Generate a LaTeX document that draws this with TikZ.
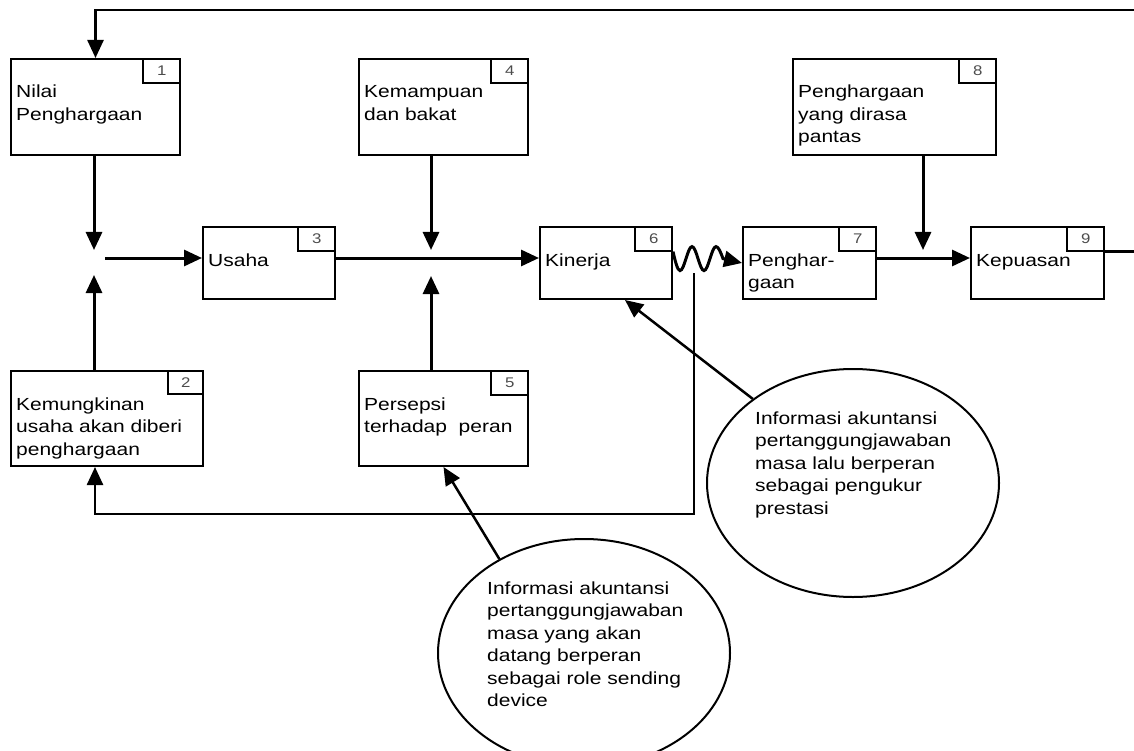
\documentclass[tikz,border=0pt]{standalone}
\usepackage{fontspec}
\setmainfont{Liberation Sans}[FakeStretch=1.2]
\usetikzlibrary{arrows.meta,shapes.geometric,calc}

\begin{document}
\begin{tikzpicture}[x=1pt,y=-1pt,
  kotak/.style={draw,line width=2pt,anchor=north west,inner sep=0pt},
  nomor/.style={draw,line width=1.6pt,anchor=north east,minimum width=37,minimum height=24,inner sep=0pt,text=black!70,font=\fontsize{14}{14}\selectfont},
  isi/.style={anchor=base west,inner sep=0pt,text width=300,align=left,font=\fontsize{17.5}{22.5}\selectfont},
  elips/.style={draw,ellipse,line width=2pt,minimum width=292,minimum height=228,inner sep=0pt},
  panah/.style={line width=3pt,-{Triangle[length=18pt,width=16pt]}},
  panahtipis/.style={line width=2.5pt,-{Triangle[length=18pt,width=16pt]}}]
\useasboundingbox (0,0) rectangle (1134,751);

% kotak 1 - 9
\node[kotak,minimum width=169,minimum height=96] (k1) at (10,58) {};
\node[nomor] (n1) at (k1.north east) {1};
\node[isi] (t1) at ($(k1.north west)+(6,40)$) {Nilai\\Penghargaan};

\node[kotak,minimum width=192,minimum height=95] (k2) at (10,370) {};
\node[nomor,minimum width=35,minimum height=23] (n2) at (k2.north east) {2};
\node[isi] (t2) at ($(k2.north west)+(6,40)$) {Kemungkinan\\usaha akan diberi\\penghargaan};

\node[kotak,minimum width=132,minimum height=72] (k3) at (202,226) {};
\node[nomor] (n3) at (k3.north east) {3};
\node[isi] (t3) at ($(k3.north west)+(6,40)$) {Usaha};

\node[kotak,minimum width=169,minimum height=96] (k4) at (358,58) {};
\node[nomor] (n4) at (k4.north east) {4};
\node[isi] (t4) at ($(k4.north west)+(6,40)$) {Kemampuan\\dan bakat};

\node[kotak,minimum width=169,minimum height=95] (k5) at (358,370) {};
\node[nomor] (n5) at (k5.north east) {5};
\node[isi] (t5) at ($(k5.north west)+(6,40)$) {Persepsi\\terhadap\ \ peran};

\node[kotak,minimum width=132,minimum height=72] (k6) at (539,226) {};
\node[nomor] (n6) at (k6.north east) {6};
\node[isi] (t6) at ($(k6.north west)+(6,40)$) {Kinerja};

\node[kotak,minimum width=133,minimum height=72] (k7) at (742,226) {};
\node[nomor] (n7) at (k7.north east) {7};
\node[isi] (t7) at ($(k7.north west)+(6,40)$) {Penghar-\\gaan};

\node[kotak,minimum width=203,minimum height=96] (k8) at (792,58) {};
\node[nomor] (n8) at (k8.north east) {8};
\node[isi] (t8) at ($(k8.north west)+(6,40)$) {Penghargaan\\yang dirasa\\pantas};

\node[kotak,minimum width=133,minimum height=72] (k9) at (970,226) {};
\node[nomor] (n9) at (k9.north east) {9};
\node[isi] (t9) at ($(k9.north west)+(6,40)$) {Kepuasan};

% elips
\node[elips] (e1) at (853,483) {};
\node[isi] (t10) at ($(e1.center)+(-98,-59)$) {Informasi akuntansi\\pertanggungjawaban\\masa lalu berperan\\sebagai pengukur\\prestasi};
\node[elips] (e2) at (584,653) {};
\node[isi] (t11) at ($(e2.center)+(-97,-59)$) {Informasi akuntansi\\pertanggungjawaban\\masa yang akan\\datang berperan\\sebagai role sending\\device};

% titik temu
\coordinate (j1) at (94,258);
\coordinate (j2) at (431,258);
\coordinate (j3) at (923,258);
\coordinate (umpan) at (694,273);
\coordinate (balik) at (95,514);

\draw[panah] (k1.south -| j1) -- ($(j1)+(0,-8)$);
\draw[panah] (k2.north -| j1) -- ($(j1)+(0,17)$);
\draw[panah] ($(j1)+(11,0)$) -- (k3.west |- j1);
\draw[panah] (k4.south -| j2) -- ($(j2)+(0,-8)$);
\draw[panah] (k5.north -| j2) -- ($(j2)+(0,18)$);
\draw[panah] (k3.east |- j2) -- (k6.west |- j2);
\draw[panah] (k8.south -| j3) -- ($(j3)+(0,-8)$);
\draw[panah] (k7.east |- j3) -- (k9.west |- j3);

% gelombang
\draw[panah] (n6.south east) sin ++(7,19) cos ++(6,-12) sin ++(6,-12) cos ++(6,12)
  sin ++(6,12) cos ++(6,-12) sin ++(6,-12) cos ++(7,12) -- (k7.west);

% umpan balik
\draw[panahtipis] (umpan) |- (balik) -- (balik |- k2.south);
\draw[panahtipis] (n9.south east) -- ++(40,0) |- ($(k1.north)+(0,-48)$) -- (k1.north);

\draw[panahtipis] (e1.140) -- ($(k6.south)+(19,0)$);
\draw[panahtipis] (e2.132) -- (k5.south);
\end{tikzpicture}
\end{document}
